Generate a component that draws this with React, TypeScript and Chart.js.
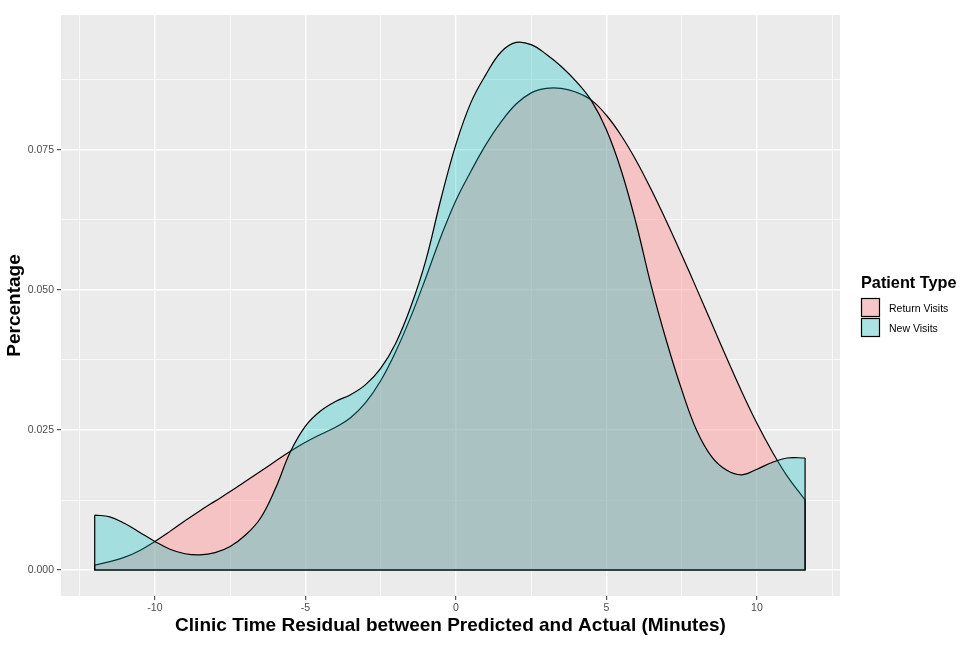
import React, { useEffect, useRef } from "react";
import { Chart, registerables } from "chart.js";

Chart.register(...registerables);

// ---- data ----
const X_VALUES = [
  -12, -11.5, -11, -10.5, -10, -9.5, -9, -8.5, -8, -7.5, -7, -6.5, -6, -5.5, -5, -4.5,
  -4, -3.5, -3, -2.5, -2, -1.5, -1, -0.5, 0, 0.5, 1, 1.5, 2, 2.5, 3, 3.5,
  4, 4.5, 5, 5.5, 6, 6.5, 7, 7.5, 8, 8.5, 9, 9.5, 10, 10.5, 11, 11.6,
];

const RETURN_VISITS = [
  0.0009, 0.0015, 0.0023, 0.0035, 0.0051, 0.0069, 0.0088, 0.0106, 0.0123, 0.014, 0.0158, 0.0176, 0.0194, 0.0212, 0.0228, 0.0242,
  0.0255, 0.0272, 0.0299, 0.0338, 0.039, 0.0452, 0.0522, 0.0595, 0.066, 0.0712, 0.076, 0.08, 0.0832, 0.0852, 0.086, 0.086,
  0.0853, 0.0839, 0.0812, 0.0775, 0.073, 0.0678, 0.0622, 0.0563, 0.0502, 0.044, 0.0378, 0.0318, 0.0262, 0.0212, 0.0168, 0.0125,
];

const NEW_VISITS = [
  0.0098, 0.0095, 0.0083, 0.0067, 0.0051, 0.0037, 0.0029, 0.0027, 0.0031, 0.0042, 0.0062, 0.0092, 0.0145, 0.0211, 0.0257, 0.0284,
  0.0301, 0.0313, 0.0331, 0.036, 0.0405, 0.047, 0.0553, 0.0662, 0.076, 0.0835, 0.0885, 0.0925, 0.0942, 0.0938, 0.0921, 0.0899,
  0.0872, 0.0838, 0.0786, 0.0712, 0.0616, 0.0505, 0.0408, 0.0322, 0.0249, 0.0202, 0.0178, 0.017, 0.018, 0.0192, 0.02, 0.02,
];

const SERIES_LABELS = ["Return Visits", "New Visits"];
const LEGEND_TITLE = "Patient Type";
const X_TITLE = "Clinic Time Residual between Predicted and Actual (Minutes)";
const Y_TITLE = "Percentage";

const X_TICKS = [-12.5, -10, -7.5, -5, -2.5, 0, 2.5, 5, 7.5, 10, 12.5];
const X_MAJOR = [-10, -5, 0, 5, 10];
const Y_TICKS = [0, 0.0125, 0.025, 0.0375, 0.05, 0.0625, 0.075, 0.0875];
const Y_MAJOR = [0, 0.025, 0.05, 0.075];

// ---- styles ----
const FONT = "'Liberation Sans', Arial, Helvetica, sans-serif";
const PINK_FILL = "rgba(255,150,150,0.48)";
const CYAN_FILL = "rgba(0,191,196,0.3)";
const FILLS = [PINK_FILL, CYAN_FILL];

const isMajor = (list: number[], v: number) => list.some((m) => Math.abs(m - v) < 1e-9);

const backgroundPlugin = {
  id: "panelBackground",
  beforeDraw(chart: any) {
    const { ctx, chartArea } = chart;
    ctx.save();
    ctx.fillStyle = "#FFFFFF";
    ctx.fillRect(0, 0, chart.width, chart.height);
    ctx.fillStyle = "#EBEBEB";
    ctx.fillRect(chartArea.left, chartArea.top, chartArea.right - chartArea.left, chartArea.bottom - chartArea.top);
    ctx.restore();
  },
};

const legendPlugin = {
  id: "ggLegend",
  afterDraw(chart: any) {
    const { ctx } = chart;
    const left = chart.chartArea.right + 21;
    ctx.save();
    ctx.fillStyle = "#000000";
    ctx.font = `bold 16.3px ${FONT}`;
    ctx.textBaseline = "alphabetic";
    ctx.textAlign = "left";
    ctx.fillText(LEGEND_TITLE, left, 288);
    const items = chart.data.datasets.filter((d: any) => SERIES_LABELS.includes(d.label));
    items.forEach((d: any, i: number) => {
      const top = 298 + i * 20;
      ctx.fillStyle = "#F2F2F2";
      ctx.fillRect(left, top, 19, 19);
      ctx.fillStyle = d.backgroundColor;
      ctx.fillRect(left, top, 19, 19);
      ctx.strokeStyle = "#000000";
      ctx.lineWidth = 1.2;
      ctx.strokeRect(left + 0.5, top + 0.5, 18, 18);
      ctx.fillStyle = "#000000";
      ctx.font = `10.5px ${FONT}`;
      ctx.fillText(d.label, left + 28, top + 14);
    });
    ctx.restore();
  },
};

export default function App() {
  const canvasRef = useRef<HTMLCanvasElement | null>(null);

  useEffect(() => {
    const canvas = canvasRef.current;
    if (!canvas) return;
    const first = X_VALUES[0];
    const last = X_VALUES[X_VALUES.length - 1];
    const seriesValues = [RETURN_VISITS, NEW_VISITS];

    const datasets: any[] = [];
    seriesValues.forEach((vals, i) => {
      datasets.push({
        label: SERIES_LABELS[i],
        data: X_VALUES.map((x, j) => ({ x, y: vals[j] })),
        borderColor: "#000000",
        borderWidth: 1.2,
        backgroundColor: FILLS[i],
        fill: "origin",
        tension: 0.4,
        pointRadius: 0,
        order: 10 - i * 2,
      });
      datasets.push({
        label: SERIES_LABELS[i] + " edge",
        data: [
          { x: first, y: vals[0] },
          { x: first, y: 0 },
          { x: last, y: 0 },
          { x: last, y: vals[vals.length - 1] },
        ],
        borderColor: "#000000",
        borderWidth: 1.2,
        fill: false,
        tension: 0,
        pointRadius: 0,
        order: 9 - i * 2,
      });
    });

    const chart = new Chart(canvas, {
      type: "line",
      data: { datasets },
      plugins: [backgroundPlugin, legendPlugin],
      options: {
        responsive: false,
        animation: false,
        events: [],
        layout: { padding: { top: 15, right: 128, bottom: 0, left: 0 } },
        plugins: {
          legend: { display: false },
          tooltip: { enabled: false },
        },
        scales: {
          x: {
            type: "linear",
            min: -13.12,
            max: 12.76,
            afterBuildTicks: (s: any) => {
              s.ticks = X_TICKS.map((v) => ({ value: v }));
            },
            afterFit: (s: any) => {
              s.height = 54;
            },
            border: { display: false },
            grid: {
              color: "#FFFFFF",
              lineWidth: (c: any) => (isMajor(X_MAJOR, c.tick?.value) ? 1.4 : 0.7),
              drawTicks: true,
              tickLength: 4,
              tickWidth: 1,
              tickColor: (c: any) => (isMajor(X_MAJOR, c.tick?.value) ? "#333333" : "rgba(0,0,0,0)"),
            },
            ticks: {
              autoSkip: false,
              maxRotation: 0,
              padding: 2,
              color: "#4D4D4D",
              font: { family: FONT, size: 10.5 },
              callback: (v: any) => (isMajor(X_MAJOR, Number(v)) ? String(v) : ""),
            },
            title: {
              display: true,
              text: X_TITLE,
              color: "#000000",
              font: { family: FONT, size: 19, weight: "bold" },
              padding: { top: 0, bottom: 13 },
            },
          },
          y: {
            type: "linear",
            min: -0.00464,
            max: 0.0991,
            afterBuildTicks: (s: any) => {
              s.ticks = Y_TICKS.map((v) => ({ value: v }));
            },
            afterFit: (s: any) => {
              s.width = 61;
            },
            border: { display: false },
            grid: {
              color: "#FFFFFF",
              lineWidth: (c: any) => (isMajor(Y_MAJOR, c.tick?.value) ? 1.4 : 0.7),
              drawTicks: true,
              tickLength: 4,
              tickWidth: 1,
              tickColor: (c: any) => (isMajor(Y_MAJOR, c.tick?.value) ? "#333333" : "rgba(0,0,0,0)"),
            },
            ticks: {
              autoSkip: false,
              padding: 3,
              color: "#4D4D4D",
              font: { family: FONT, size: 10.5 },
              callback: (v: any) => (isMajor(Y_MAJOR, Number(v)) ? Number(v).toFixed(3) : ""),
            },
            title: {
              display: true,
              text: Y_TITLE,
              color: "#000000",
              font: { family: FONT, size: 19, weight: "bold" },
              padding: { top: 3.6, bottom: 0 },
            },
          },
        },
      } as any,
    });

    return () => {
      chart.destroy();
    };
  }, []);

  return (
    <div style={{ position: "fixed", left: 0, top: 0, width: 968, height: 650, background: "#FFFFFF" }}>
      <canvas ref={canvasRef} width={968} height={650} style={{ width: 968, height: 650, display: "block" }} />
    </div>
  );
}
